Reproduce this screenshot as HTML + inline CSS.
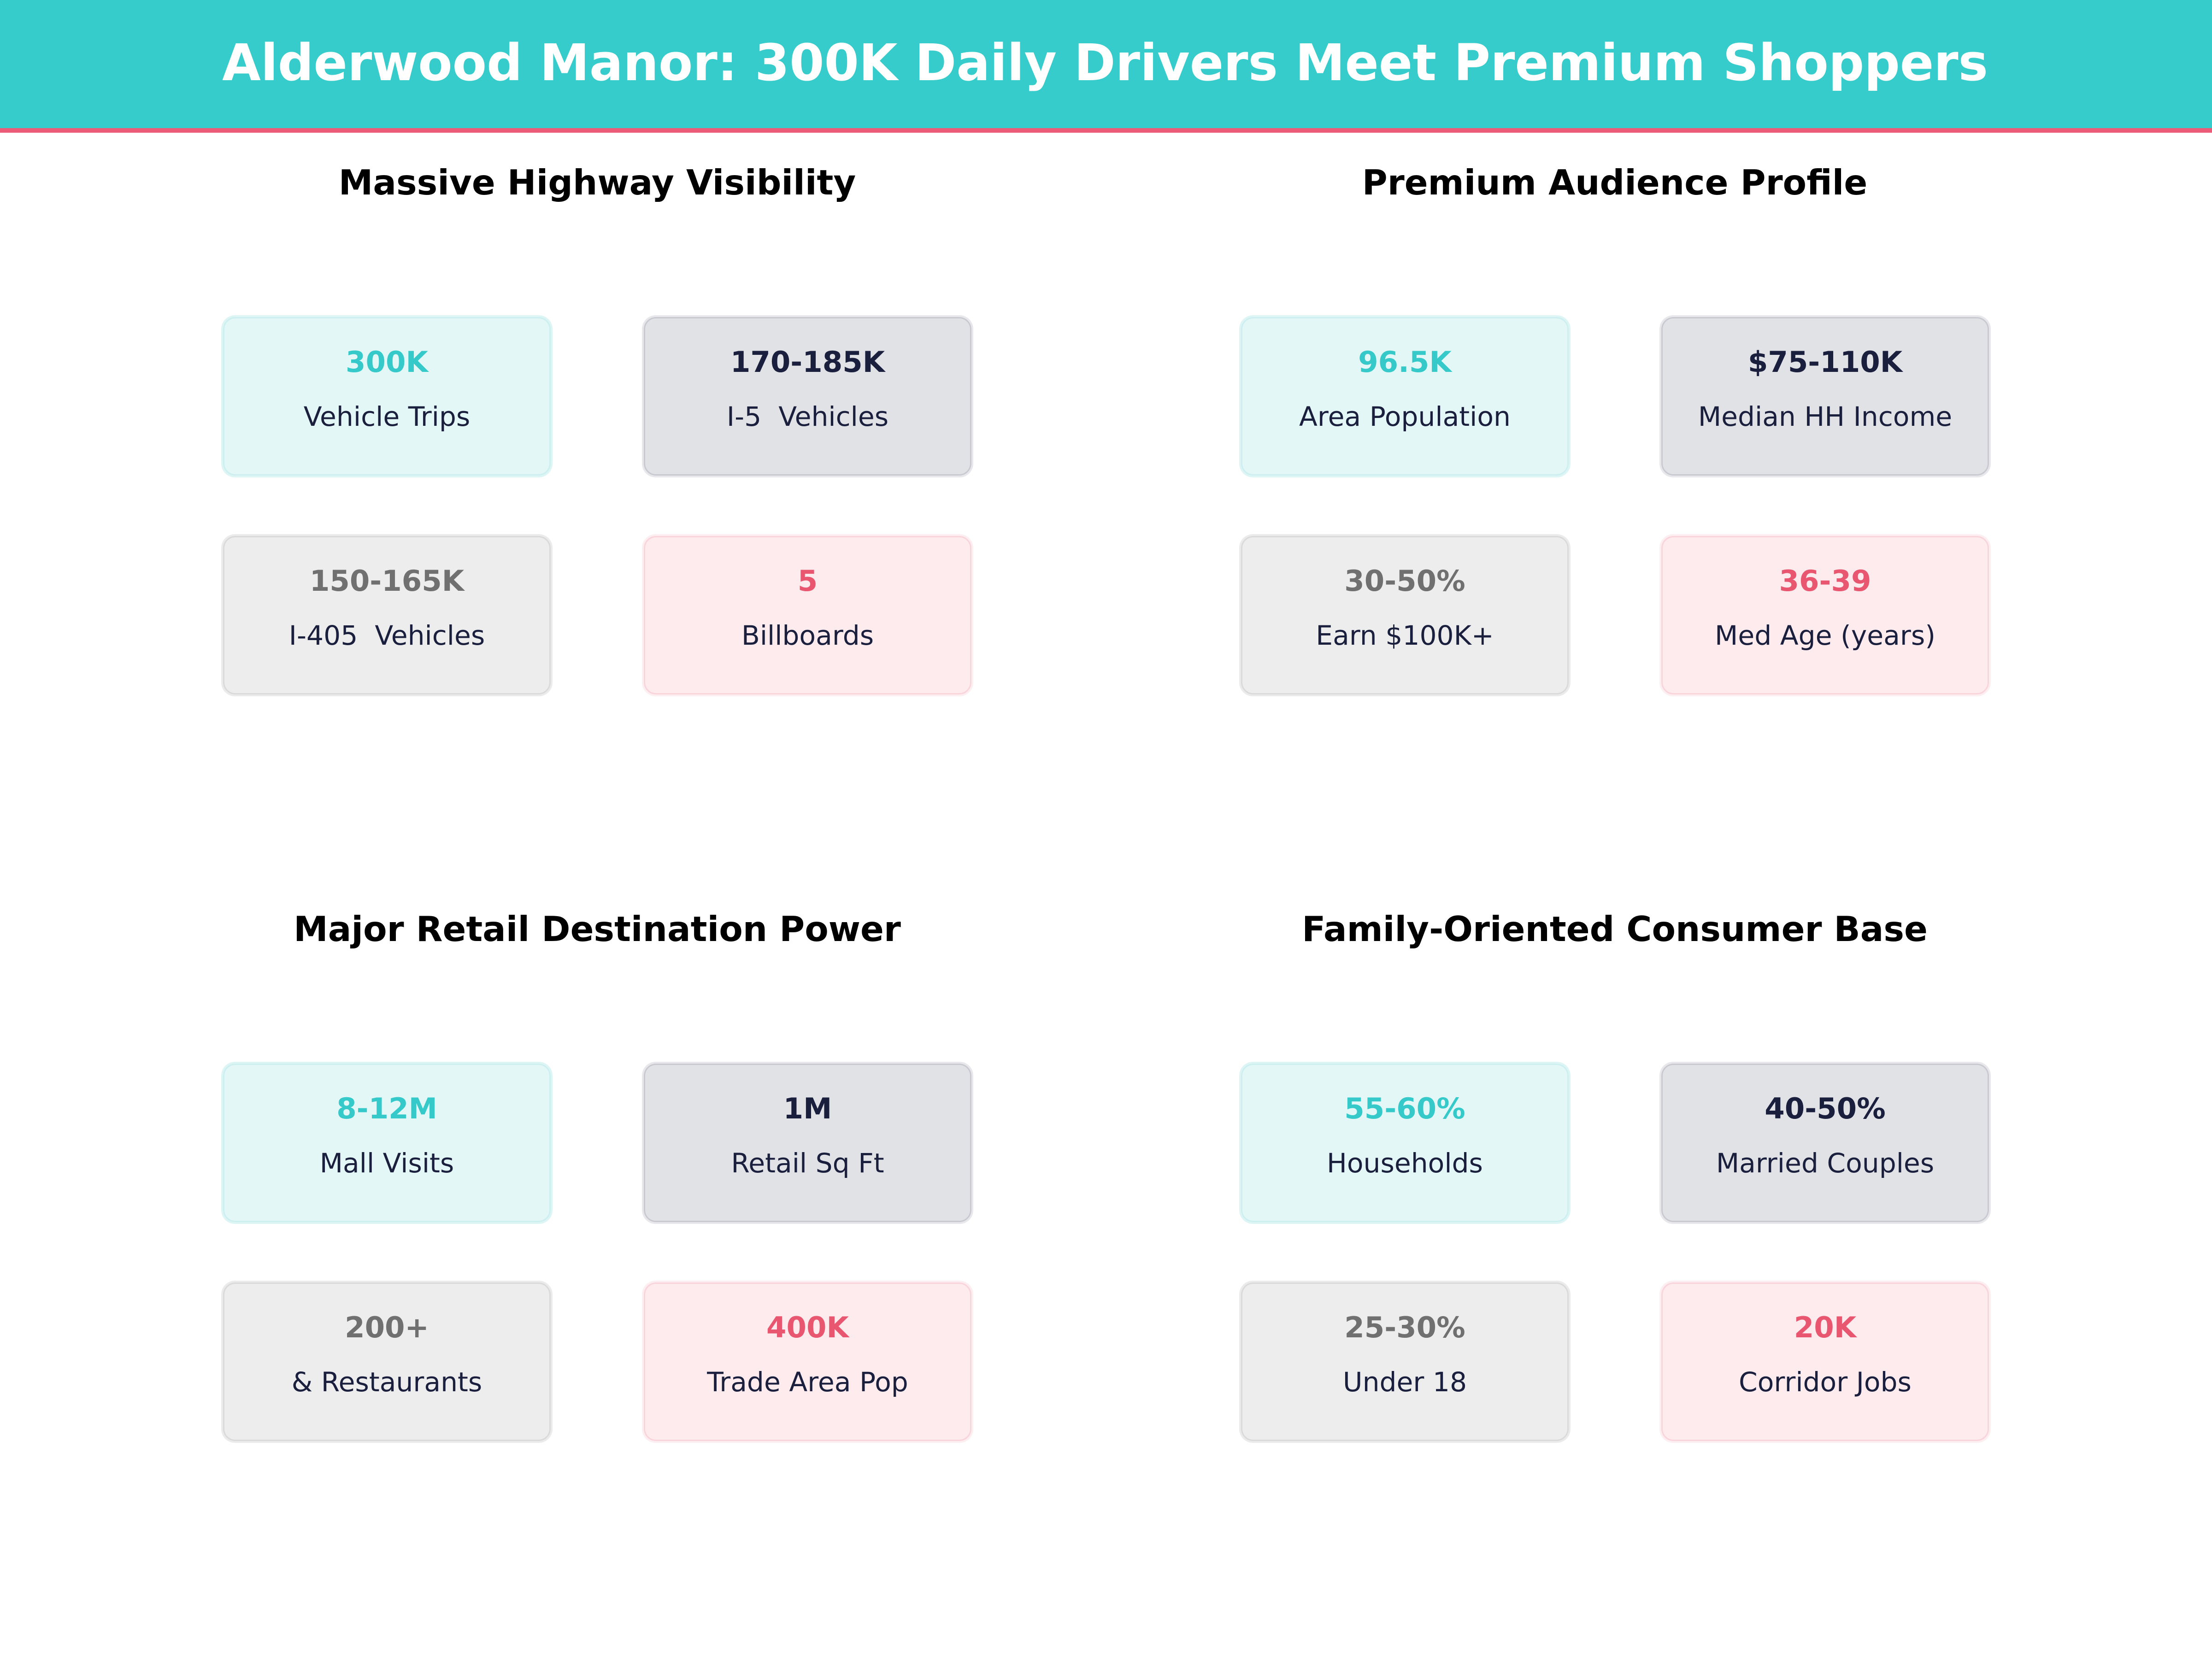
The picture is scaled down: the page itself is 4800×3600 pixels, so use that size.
<!DOCTYPE html>
<html>
<head>
<meta charset="utf-8">
<style>
  html, body { margin: 0; padding: 0; background: #ffffff; }
  svg { display: block; }
  text { font-family: "DejaVu Sans", "Liberation Sans", sans-serif; }
  .title { font-weight: bold; font-size: 110px; fill: #ffffff; }
  .sub { font-weight: bold; font-size: 75px; fill: #000000; }
  .val { font-weight: bold; font-size: 62.5px; }
  .lab { font-size: 58.3px; fill: #1a1f3d; }
</style>
</head>
<body>
<svg xmlns="http://www.w3.org/2000/svg" width="4800" height="3600" viewBox="0 0 4800 3600">
  <rect x="0" y="0" width="4800" height="3600" fill="#ffffff"/>
  <!-- Header -->
  <rect x="0" y="0" width="4800" height="279" fill="#36cccc"/>
  <rect x="0" y="278" width="4800" height="10" fill="#ec5c78"/>
  <text class="title" x="2398" y="174" text-anchor="middle" textLength="3832" lengthAdjust="spacingAndGlyphs">Alderwood Manor: 300K Daily Drivers Meet Premium Shoppers</text>

  <!-- Subplot titles -->
  <text class="sub" x="1296" y="422" text-anchor="middle">Massive Highway Visibility</text>
  <text class="sub" x="3504" y="422" text-anchor="middle">Premium Audience Profile</text>
  <text class="sub" x="1296" y="2042" text-anchor="middle">Major Retail Destination Power</text>
  <text class="sub" x="3504" y="2042" text-anchor="middle">Family-Oriented Consumer Base</text>

  <defs>
    <g id="c-teal">
      <rect x="0" y="0" width="719" height="352" rx="30" ry="30" fill="#def5f5"/>
      <rect x="5.5" y="5.5" width="708" height="341" rx="25" ry="25" fill="#e4f7f7" stroke="#cdeff0" stroke-width="3"/>
    </g>
    <g id="c-navy">
      <rect x="0" y="0" width="719" height="352" rx="30" ry="30" fill="#e8e8ec"/>
      <rect x="5.5" y="5.5" width="708" height="341" rx="25" ry="25" fill="#e1e2e6" stroke="#c9cad1" stroke-width="3"/>
    </g>
    <g id="c-gray">
      <rect x="0" y="0" width="719" height="352" rx="30" ry="30" fill="#ebebeb"/>
      <rect x="5.5" y="5.5" width="708" height="341" rx="25" ry="25" fill="#ededed" stroke="#dadada" stroke-width="3"/>
    </g>
    <g id="c-pink">
      <rect x="0" y="0" width="719" height="352" rx="30" ry="30" fill="#fdeef1"/>
      <rect x="5.5" y="5.5" width="708" height="341" rx="25" ry="25" fill="#fdebee" stroke="#f9d4db" stroke-width="3"/>
    </g>
  </defs>

  <!-- ===== Top-left panel ===== -->
  <use href="#c-teal" x="480" y="684"/>
  <text class="val" x="839.5" y="807" text-anchor="middle" fill="#36c9c9">300K</text>
  <text class="lab" x="839.5" y="924" text-anchor="middle">Vehicle Trips</text>

  <use href="#c-navy" x="1393" y="684"/>
  <text class="val" x="1752.5" y="807" text-anchor="middle" fill="#1a1f3d">170-185K</text>
  <text class="lab" x="1752.5" y="924" text-anchor="middle" xml:space="preserve">I-5  Vehicles</text>

  <use href="#c-gray" x="480" y="1159"/>
  <text class="val" x="839.5" y="1282" text-anchor="middle" fill="#707070">150-165K</text>
  <text class="lab" x="839.5" y="1399" text-anchor="middle" xml:space="preserve">I-405  Vehicles</text>

  <use href="#c-pink" x="1393" y="1159"/>
  <text class="val" x="1752.5" y="1282" text-anchor="middle" fill="#e9566f">5</text>
  <text class="lab" x="1752.5" y="1399" text-anchor="middle">Billboards</text>

  <!-- ===== Top-right panel ===== -->
  <use href="#c-teal" x="2689" y="684"/>
  <text class="val" x="3048.5" y="807" text-anchor="middle" fill="#36c9c9">96.5K</text>
  <text class="lab" x="3048.5" y="924" text-anchor="middle">Area Population</text>

  <use href="#c-navy" x="3601" y="684"/>
  <text class="val" x="3960.5" y="807" text-anchor="middle" fill="#1a1f3d">$75-110K</text>
  <text class="lab" x="3960.5" y="924" text-anchor="middle">Median HH Income</text>

  <use href="#c-gray" x="2689" y="1159"/>
  <text class="val" x="3048.5" y="1282" text-anchor="middle" fill="#707070">30-50%</text>
  <text class="lab" x="3048.5" y="1399" text-anchor="middle">Earn $100K+</text>

  <use href="#c-pink" x="3601" y="1159"/>
  <text class="val" x="3960.5" y="1282" text-anchor="middle" fill="#e9566f">36-39</text>
  <text class="lab" x="3960.5" y="1399" text-anchor="middle">Med Age (years)</text>

  <!-- ===== Bottom-left panel ===== -->
  <use href="#c-teal" x="480" y="2304"/>
  <text class="val" x="839.5" y="2427" text-anchor="middle" fill="#36c9c9">8-12M</text>
  <text class="lab" x="839.5" y="2544" text-anchor="middle">Mall Visits</text>

  <use href="#c-navy" x="1393" y="2304"/>
  <text class="val" x="1752.5" y="2427" text-anchor="middle" fill="#1a1f3d">1M</text>
  <text class="lab" x="1752.5" y="2544" text-anchor="middle">Retail Sq Ft</text>

  <use href="#c-gray" x="480" y="2779"/>
  <text class="val" x="839.5" y="2902" text-anchor="middle" fill="#707070">200+</text>
  <text class="lab" x="839.5" y="3019" text-anchor="middle">&amp; Restaurants</text>

  <use href="#c-pink" x="1393" y="2779"/>
  <text class="val" x="1752.5" y="2902" text-anchor="middle" fill="#e9566f">400K</text>
  <text class="lab" x="1752.5" y="3019" text-anchor="middle">Trade Area Pop</text>

  <!-- ===== Bottom-right panel ===== -->
  <use href="#c-teal" x="2689" y="2304"/>
  <text class="val" x="3048.5" y="2427" text-anchor="middle" fill="#36c9c9">55-60%</text>
  <text class="lab" x="3048.5" y="2544" text-anchor="middle">Households</text>

  <use href="#c-navy" x="3601" y="2304"/>
  <text class="val" x="3960.5" y="2427" text-anchor="middle" fill="#1a1f3d">40-50%</text>
  <text class="lab" x="3960.5" y="2544" text-anchor="middle">Married Couples</text>

  <use href="#c-gray" x="2689" y="2779"/>
  <text class="val" x="3048.5" y="2902" text-anchor="middle" fill="#707070">25-30%</text>
  <text class="lab" x="3048.5" y="3019" text-anchor="middle">Under 18</text>

  <use href="#c-pink" x="3601" y="2779"/>
  <text class="val" x="3960.5" y="2902" text-anchor="middle" fill="#e9566f">20K</text>
  <text class="lab" x="3960.5" y="3019" text-anchor="middle">Corridor Jobs</text>
</svg>
</body>
</html>
